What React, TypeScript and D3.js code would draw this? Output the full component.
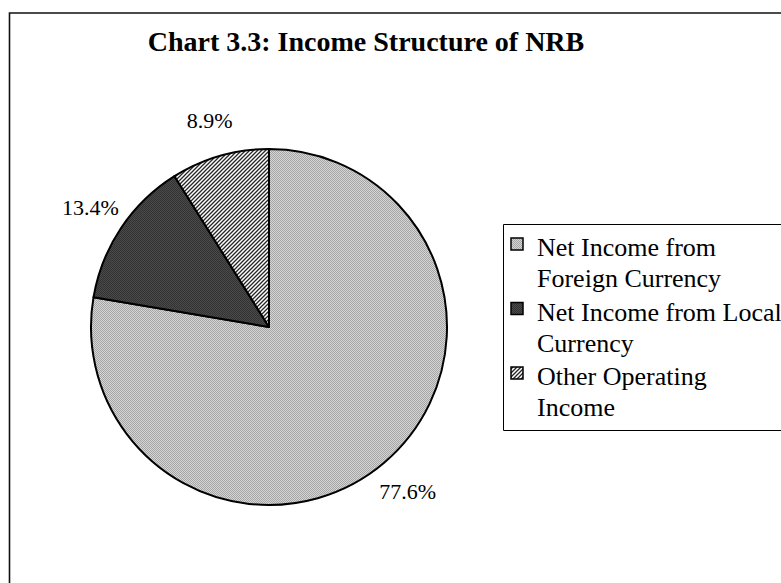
import * as d3 from 'd3';

// Income shares (%), as printed on the chart
const categories = ['Net Income from Foreign Currency', 'Net Income from Local Currency', 'Other Operating Income'];
const shares = [77.6, 13.4, 8.9];
const percentLabels = ['77.6%', '13.4%', '8.9%'];
// legend text is wrapped on two lines, as in the original
const legendLines = [
  ['Net Income from', 'Foreign Currency'],
  ['Net Income from Local', 'Currency'],
  ['Other Operating', 'Income'],
];
const patternIds = ['pat-foreign', 'pat-local', 'pat-other'];

const W = 781;
const H = 583;
const FONT = '"Liberation Serif", "Times New Roman", serif';

const App = () => {
  const cx = 269;
  const cy = 327;
  const radius = 178;

  const pie = d3.pie<number>().sort(null).value(d => d).startAngle(0).endAngle(2 * Math.PI);
  const arcs = pie(shares);
  const arc = d3.arc<d3.PieArcDatum<number>>().innerRadius(0).outerRadius(radius);
  const labelArc = d3.arc<d3.PieArcDatum<number>>().innerRadius(215).outerRadius(215);

  // legend layout (box runs off the right edge, like the original)
  const legendX = 503.5;
  const legendY = 224.5;
  const legendH = 206;
  const itemStep = 64.5;
  const lineStep = 31;
  const firstBaseline = 256;

  return (
    <svg width={W} height={H} style={{ position: 'absolute', left: 0, top: 0, background: '#fff', overflow: 'hidden' }}>
      <defs>
        <pattern id="pat-foreign" width="2" height="2" patternUnits="userSpaceOnUse">
          <rect width="2" height="2" fill="#d6d6d6" />
          <rect width="1" height="1" fill="#a4a4a4" />
          <rect x="1" y="1" width="1" height="1" fill="#a4a4a4" />
        </pattern>
        <pattern id="pat-local" width="2" height="2" patternUnits="userSpaceOnUse">
          <rect width="2" height="2" fill="#4a4a4a" />
          <rect width="1" height="1" fill="#333" />
          <rect x="1" y="1" width="1" height="1" fill="#333" />
        </pattern>
        <pattern id="pat-other" width="4" height="4" patternUnits="userSpaceOnUse">
          <rect width="4" height="4" fill="#fff" />
          <path d="M-1,1 L1,-1 M0,4 L4,0 M3,5 L5,3" stroke="#262626" strokeWidth="1.3" />
        </pattern>
      </defs>

      {/* chart area border: only top and left edges fall inside the picture */}
      <path d={`M9.5,${H} V13 H${W}`} fill="none" stroke="#111" strokeWidth={1.6} />

      <text x={366} y={51} textAnchor="middle" fontFamily={FONT} fontWeight="bold" fontSize={28} fill="#000">
        Chart 3.3: Income Structure of NRB
      </text>

      <g transform={`translate(${cx},${cy})`}>
        {arcs.map((a, i) => (
          <path key={categories[i]} d={arc(a) || ''} fill={`url(#${patternIds[i]})`} stroke="#000" strokeWidth={2} strokeLinejoin="round" />
        ))}
        {arcs.map((a, i) => {
          const [lx, ly] = labelArc.centroid(a);
          return (
            <text key={percentLabels[i]} x={lx} y={ly} dy="0.35em" textAnchor="middle" fontFamily={FONT} fontSize={22} fill="#000">
              {percentLabels[i]}
            </text>
          );
        })}
      </g>

      <g>
        <path
          d={`M${W},${legendY} H${legendX} V${legendY + legendH} H${W}`}
          fill="#fff"
          stroke="#000"
          strokeWidth={1}
        />
        {legendLines.map((lines, i) => {
          const base = firstBaseline + i * itemStep;
          return (
            <g key={categories[i]}>
              <rect x={511} y={base - 18} width={12} height={12} fill={`url(#${patternIds[i]})`} stroke="#000" strokeWidth={1.5} />
              {lines.map((ln, j) => (
                <text key={ln} x={537} y={base + j * lineStep} fontFamily={FONT} fontSize={26} fill="#000">
                  {ln}
                </text>
              ))}
            </g>
          );
        })}
      </g>
    </svg>
  );
};

export default App;
